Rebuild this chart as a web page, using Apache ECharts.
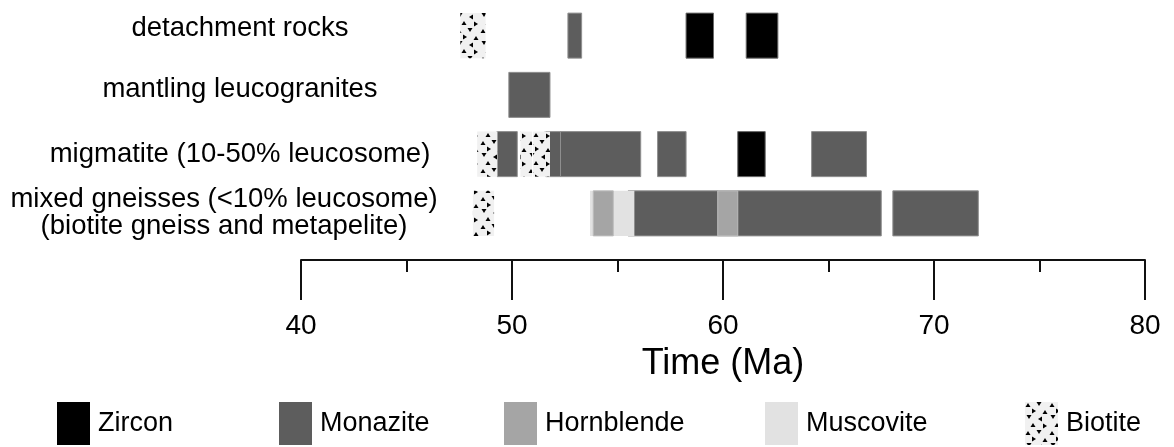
<!DOCTYPE html>
<html>
<head>
<meta charset="utf-8">
<script src="https://cdn.jsdelivr.net/npm/echarts@6/dist/echarts.min.js"></script>
<style>
  html, body { margin: 0; padding: 0; background: #fff; }
  #chart { width: 1174px; height: 447px; }
</style>
</head>
<body>
<div id="chart"></div>
<script>
// Rock units, top to bottom
const rows = [
  'detachment rocks',
  'mantling leucogranites',
  'migmatite (10-50% leucosome)',
  'mixed gneisses (<10% leucosome)\n(biotite gneiss and metapelite)'
];

// Age ranges per mineral: [row index, start (Ma), end (Ma)]
const zircon = [[0, 58.25, 59.55], [0, 61.1, 62.6], [2, 60.7, 62.0]];
const monazite = [
  [0, 52.65, 53.3], [1, 49.85, 51.8],
  [2, 49.3, 50.25], [2, 51.6, 52.3], [2, 52.3, 56.1], [2, 56.9, 58.25], [2, 64.2, 66.8],
  [3, 55.5, 67.5], [3, 68.05, 72.1]
];
const muscovite = [[3, 53.7, 55.8]];
const hornblende = [[3, 53.85, 54.8], [3, 59.75, 60.7]];
const biotite = [[0, 47.55, 48.75], [2, 48.35, 49.3], [2, 50.4, 50.95], [2, 51.0, 51.8], [3, 48.15, 49.15]];

const xTicks = { min: 40, max: 80, interval: 10 };

// Stippled fill for biotite: small black triangles on a pale ground
function stipple() {
  const c = document.createElement('canvas');
  c.width = 24; c.height = 28;
  const g = c.getContext('2d');
  g.fillStyle = '#f1f1f1';
  g.fillRect(0, 0, c.width, c.height);
  g.fillStyle = '#000';
  const dots = [[3, 3, 0], [14, 2, 1], [9, 9, 2], [20, 10, 0], [4, 15, 1], [15, 17, 3], [8, 23, 0], [20, 24, 2]];
  dots.forEach(([x, y, o]) => {
    g.beginPath();
    if (o === 0) { g.moveTo(x, y - 2); g.lineTo(x + 2.5, y + 2); g.lineTo(x - 2.5, y + 2); }
    else if (o === 1) { g.moveTo(x, y + 2); g.lineTo(x + 2.5, y - 2); g.lineTo(x - 2.5, y - 2); }
    else if (o === 2) { g.moveTo(x + 2, y); g.lineTo(x - 2, y - 2.5); g.lineTo(x - 2, y + 2.5); }
    else { g.moveTo(x - 2, y); g.lineTo(x + 2, y - 2.5); g.lineTo(x + 2, y + 2.5); }
    g.closePath();
    g.fill();
  });
  return { image: c, repeat: 'repeat' };
}

function renderBar(params, api) {
  const r = api.value(0);
  const s = api.coord([api.value(1), r]);
  const e = api.coord([api.value(2), r]);
  const h = api.size([0, 1])[1] * 0.76;
  return {
    type: 'rect',
    shape: { x: s[0], y: s[1] - h / 2, width: e[0] - s[0], height: h },
    style: api.style()
  };
}

function mineral(name, data, color, border) {
  return {
    name: name,
    type: 'custom',
    renderItem: renderBar,
    encode: { x: [1, 2], y: 0 },
    itemStyle: { color: color, borderColor: border, borderWidth: border ? 1 : 0 },
    data: data,
    animation: false
  };
}

const font = 'Liberation Sans, Arial, sans-serif';
const rowFont = 27.5;

function legendAt(name, left) {
  return {
    data: [name],
    left: left,
    top: 402,
    padding: 0,
    itemWidth: 33,
    itemHeight: 43,
    itemGap: 0,
    icon: 'rect',
    itemStyle: { borderWidth: 0 },
    textStyle: { fontSize: 27, fontFamily: font, color: '#000', padding: [0, 0, 0, 3] },
    selectedMode: false
  };
}

const chart = echarts.init(document.getElementById('chart'), null, { renderer: 'canvas' });

chart.setOption({
  backgroundColor: '#fff',
  animation: false,
  grid: { left: 301, right: 29, top: 6, bottom: 204, containLabel: false },
  xAxis: {
    type: 'value',
    min: xTicks.min,
    max: xTicks.max,
    interval: xTicks.interval,
    offset: 17,
    axisLine: { show: true, lineStyle: { color: '#111', width: 2 } },
    axisTick: { show: true, length: 40, lineStyle: { color: '#111', width: 2 } },
    minorTick: { show: true, splitNumber: 2, length: 12, lineStyle: { color: '#111', width: 2 } },
    splitLine: { show: false },
    minorSplitLine: { show: false },
    axisLabel: { fontSize: 28, fontFamily: font, color: '#000', margin: 52 },
    name: 'Time (Ma)',
    nameLocation: 'middle',
    nameGap: 86,
    nameTextStyle: { fontSize: 36, fontFamily: font, color: '#000' }
  },
  yAxis: {
    type: 'category',
    data: rows,
    inverse: true,
    axisLine: { show: false },
    axisTick: { show: false },
    splitLine: { show: false },
    axisLabel: {
      fontSize: rowFont,
      fontFamily: font,
      color: '#000',
      align: 'center',
      margin: 61,
      lineHeight: 27,
      formatter: (v, i) => '{r' + i + '|' + v + '}',
      rich: {
        r0: { fontSize: rowFont, fontFamily: font, color: '#000', padding: [0, 0, 15, 0] },
        r1: { fontSize: rowFont, fontFamily: font, color: '#000', padding: [0, 0, 11, 0] },
        r2: { fontSize: rowFont, fontFamily: font, color: '#000', padding: [0, 0, 0, 0] },
        r3: { fontSize: rowFont, fontFamily: font, color: '#000', lineHeight: 27, padding: [0, 32, 0, 0] }
      }
    }
  },
  legend: [
    legendAt('Zircon', 57),
    legendAt('Monazite', 279),
    legendAt('Hornblende', 504),
    legendAt('Muscovite', 765),
    legendAt('Biotite', 1025)
  ],
  series: [
    mineral('Monazite', monazite, '#5d5d5d', '#8f8f8f'),
    mineral('Muscovite', muscovite, '#e2e2e2', null),
    mineral('Hornblende', hornblende, '#a5a5a5', '#bdbdbd'),
    mineral('Zircon', zircon, '#000000', '#6a6a6a'),
    mineral('Biotite', biotite, stipple(), null)
  ]
});
</script>
</body>
</html>
